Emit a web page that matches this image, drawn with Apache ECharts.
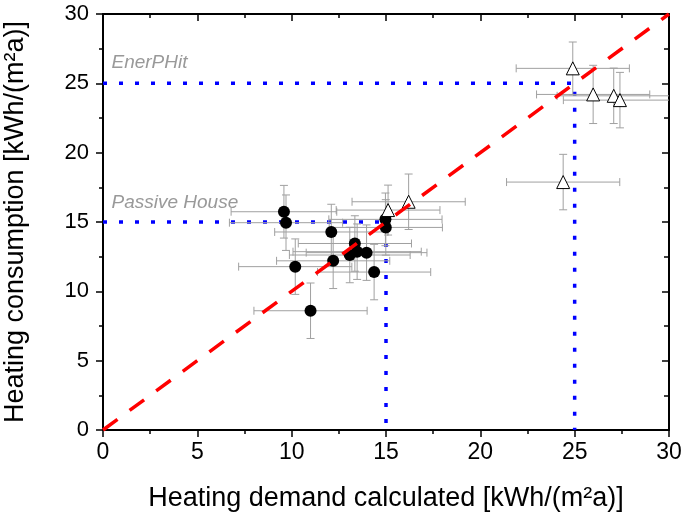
<!DOCTYPE html>
<html>
<head>
<meta charset="utf-8">
<script src="https://cdn.jsdelivr.net/npm/echarts@6/dist/echarts.min.js"></script>
<style>html,body{margin:0;padding:0;background:#fff;}#c{width:685px;height:520px;}</style>
</head>
<body>
<div id="c"></div>
<script>
// Data
const circleX    = [9.59, 9.70, 12.10, 13.35, 13.08, 13.47, 13.97, 12.20, 10.19, 14.37, 11.00, 14.97, 14.99];
const circleY    = [15.74, 14.95, 14.28, 13.45, 12.62, 12.86, 12.79, 12.20, 11.78, 11.39, 8.60, 15.19, 14.61];
const circleXErr = [2.8, 3.0, 3.0, 3.0, 3.2, 3.4, 3.2, 3.0, 3.0, 3.0, 3.0, 3.0, 3.0];
const circleYErr = [1.9, 2.0, 2.0, 2.0, 2.0, 2.0, 2.0, 2.0, 2.0, 2.0, 2.0, 1.9, 2.0];

const triX    = [15.11, 16.20, 24.90, 25.98, 27.07, 27.40, 24.39];
const triY    = [15.86, 16.46, 26.08, 24.20, 24.10, 23.79, 17.88];
const triXErr = [2.75, 3.0, 3.0, 3.0, 3.0, 3.0, 3.0];
const triYErr = [1.8, 2.0, 1.9, 2.1, 2.0, 2.0, 2.0];

const identityLine = [[0, 0], [30, 30]];
const enerPHitLine = [[0, 25], [25, 25], [25, 0]];
const passiveLine  = [[0, 15], [15, 15], [15, 0]];
const labelEnerPHit = { text: 'EnerPHit', pos: [0.45, 26.5] };
const labelPassive  = { text: 'Passive House', pos: [0.45, 16.4] };

const xName = 'Heating demand calculated [kWh/(m²a)]';
const yName = 'Heating consumption [kWh/(m²a)]';

const FONT = '"Liberation Sans", Arial, sans-serif';

function zip4(a, b, c, d) { return a.map((v, i) => [v, b[i], c[i], d[i]]); }
const errData = zip4(circleX, circleY, circleXErr, circleYErr).concat(zip4(triX, triY, triXErr, triYErr));

function renderErr(params, api) {
  const x = api.value(0), y = api.value(1), ex = api.value(2), ey = api.value(3);
  const l = api.coord([x - ex, y]), r = api.coord([x + ex, y]);
  const t = api.coord([x, y + ey]), b = api.coord([x, y - ey]);
  const cap = 4;
  const st = { stroke: '#a0a0a0', lineWidth: 1 };
  const ln = (x1, y1, x2, y2) => ({ type: 'line', shape: { x1, y1, x2, y2 }, style: st });
  return {
    type: 'group',
    children: [
      ln(l[0], l[1], r[0], r[1]),
      ln(t[0], t[1], b[0], b[1]),
      ln(l[0], l[1] - cap, l[0], l[1] + cap),
      ln(r[0], r[1] - cap, r[0], r[1] + cap),
      ln(t[0] - cap, t[1], t[0] + cap, t[1]),
      ln(b[0] - cap, b[1], b[0] + cap, b[1])
    ]
  };
}

const axisLine = { show: true, onZero: false, lineStyle: { color: '#000', width: 2 } };

const chart = echarts.init(document.getElementById('c'));
chart.setOption({
  animation: false,
  backgroundColor: '#fff',
  grid: { left: 103, right: 16, top: 14, bottom: 90, containLabel: false, outerBoundsMode: 'none' },
  xAxis: [
    {
      type: 'value', position: 'bottom', min: 0, max: 30, interval: 5,
      axisLine, splitLine: { show: false },
      axisTick: { show: true, length: 7, lineStyle: { color: '#000', width: 1.5 } },
      minorTick: { show: true, splitNumber: 2, length: 4, lineStyle: { color: '#000', width: 1.5 } },
      axisLabel: { color: '#000', fontSize: 23, fontFamily: FONT, margin: 11 },
      name: xName, nameLocation: 'middle', nameGap: 55,
      nameTextStyle: { color: '#000', fontSize: 27, fontFamily: FONT }
    },
    {
      type: 'value', position: 'top', min: 0, max: 30, interval: 5,
      axisLine, splitLine: { show: false },
      axisTick: { show: true, inside: true, length: 7, lineStyle: { color: '#000', width: 1.5 } },
      minorTick: { show: true, splitNumber: 2, length: 4, lineStyle: { color: '#000', width: 1.5 } },
      axisLabel: { show: false }
    }
  ],
  yAxis: [
    {
      type: 'value', position: 'left', min: 0, max: 30, interval: 5,
      axisLine, splitLine: { show: false },
      axisTick: { show: true, length: 7, lineStyle: { color: '#000', width: 1.5 } },
      minorTick: { show: true, splitNumber: 2, length: 4, lineStyle: { color: '#000', width: 1.5 } },
      axisLabel: { color: '#000', fontSize: 22, fontFamily: FONT, margin: 14 },
      name: yName, nameLocation: 'middle', nameGap: 74, nameRotate: 90,
      nameTextStyle: { color: '#000', fontSize: 27, fontFamily: FONT }
    },
    {
      type: 'value', position: 'right', min: 0, max: 30, interval: 5,
      axisLine, splitLine: { show: false },
      axisTick: { show: true, inside: true, length: 7, lineStyle: { color: '#000', width: 1.5 } },
      minorTick: { show: true, splitNumber: 2, length: 5, lineStyle: { color: '#000', width: 1.5 } },
      axisLabel: { show: false }
    }
  ],
  series: [
    {
      type: 'line', data: passiveLine, symbol: 'none', z: 2, silent: true,
      lineStyle: { color: '#0000ff', width: 3.5, type: [4, 12] }
    },
    {
      type: 'line', data: enerPHitLine, symbol: 'none', z: 2, silent: true,
      lineStyle: { color: '#0000ff', width: 3.5, type: [4, 12] }
    },
    {
      type: 'custom', renderItem: renderErr, data: errData, clip: true, z: 3,
      encode: { x: 0, y: 1 }
    },
    {
      type: 'scatter', data: circleX.map((v, i) => [v, circleY[i]]), symbol: 'circle', symbolSize: 12, z: 4,
      itemStyle: { color: '#000', opacity: 1 }
    },
    {
      type: 'scatter', data: triX.map((v, i) => [v, triY[i]]), symbol: 'triangle', symbolSize: 13, z: 4,
      itemStyle: { color: '#fff', borderColor: '#000', borderWidth: 1, opacity: 1 }
    },
    {
      type: 'line', data: identityLine, symbol: 'none', z: 5, silent: true,
      lineStyle: { color: '#ff0000', width: 3.5, type: [18, 15] }
    },
    {
      type: 'scatter', symbolSize: 0, z: 6, silent: true,
      data: [
        { value: labelEnerPHit.pos, name: labelEnerPHit.text },
        { value: labelPassive.pos, name: labelPassive.text }
      ],
      label: {
        show: true, position: 'right', distance: 0, formatter: p => p.name,
        color: '#808080', fontSize: 19, fontStyle: 'italic', fontFamily: FONT
      }
    }
  ]
});
</script>
</body>
</html>
